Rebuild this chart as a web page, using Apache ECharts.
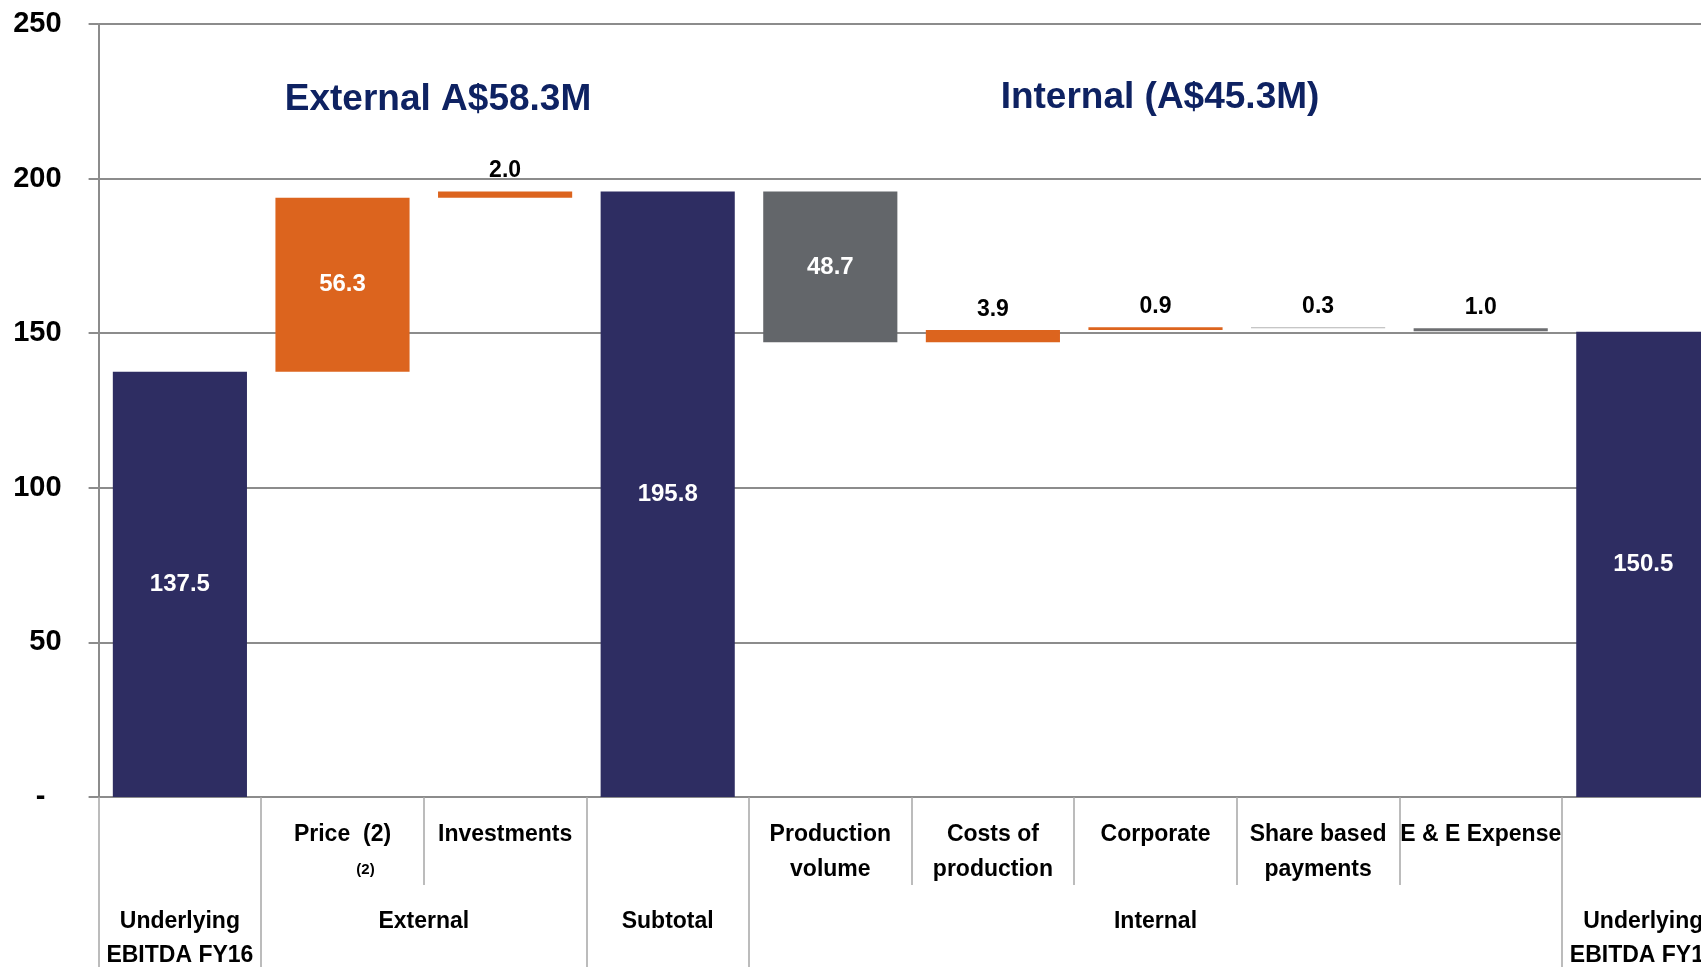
<!DOCTYPE html>
<html>
<head>
<meta charset="utf-8">
<script src="https://cdn.jsdelivr.net/npm/echarts@6/dist/echarts.min.js"></script>
<style>
html,body{margin:0;padding:0;background:#fff;}
#chart{width:1701px;height:967px;}
</style>
</head>
<body>
<div id="chart"></div>
<script>
// ---- data ----
const categories = ['Underlying EBITDA FY16', 'Price', 'Investments', 'Subtotal', 'Production volume',
  'Costs of production', 'Corporate', 'Share based payments', 'E & E Expense', 'Underlying EBITDA FY17'];
const subLabels = ['', 'Price  (2)\n{s|(2)}', 'Investments', '', 'Production\nvolume', 'Costs of\nproduction',
  'Corporate', 'Share based\npayments', 'E & E Expense', ''];
const groupLabels = ['Underlying\nEBITDA FY16', 'External', '', 'Subtotal', '', '', 'Internal', '', '', 'Underlying\nEBITDA FY17'];
const groupStarts = [0, 1, 3, 4, 9];
const totals = [137.5, null, null, 195.8, null, null, null, null, null, 150.5];
const deltas = [null, 56.3, 2.0, null, -48.7, 3.9, 0.9, -0.3, -1.0, null];
const yTicks = [0, 50, 100, 150, 200, 250];
const titles = ['External A$58.3M', 'Internal (A$45.3M)'];

// ---- styles ----
const palette = ['#2e2d62', '#dc641e', '#dc641e', '#2e2d62', '#63666a', '#dc641e', '#dc641e', '#b3b3b3', '#6d6e71', '#2e2d62'];
const FONT = '"Liberation Sans", Arial, sans-serif';
const gridLeft = 98.6, gridWidth = 1626, catW = gridWidth / categories.length;

// ---- waterfall build ----
const base = [], height = [];
let running = 0;
for (let i = 0; i < categories.length; i++) {
  if (totals[i] != null) {
    base.push(0); height.push(totals[i]); running = totals[i];
  } else {
    const end = running + deltas[i];
    base.push(Math.min(running, end));
    height.push(Math.abs(deltas[i]));
    running = end;
  }
}
const visData = height.map((h, i) => {
  const v = totals[i] != null ? totals[i] : Math.abs(deltas[i]);
  const big = v >= 10;
  return {
    value: h,
    itemStyle: { color: palette[i] },
    label: big ? {
      show: true, position: 'inside', color: '#ffffff', fontSize: 24, fontWeight: 'bold', fontFamily: FONT,
      formatter: v.toFixed(1)
    } : {
      show: true, position: 'top', distance: 9, color: '#000000', fontSize: 23, fontWeight: 'bold', fontFamily: FONT,
      formatter: v.toFixed(1)
    }
  };
});

const chart = echarts.init(document.getElementById('chart'));
chart.setOption({
  backgroundColor: '#ffffff',
  animation: false,
  title: [
    { text: titles[0], left: 438, top: 81, padding: 0, textAlign: 'center',
      textStyle: { color: '#0e2262', fontSize: 37, fontWeight: 'bold', fontFamily: FONT, lineHeight: 37 } },
    { text: titles[1], left: 1160, top: 79, padding: 0, textAlign: 'center',
      textStyle: { color: '#0e2262', fontSize: 37, fontWeight: 'bold', fontFamily: FONT, lineHeight: 37 } }
  ],
  grid: { left: gridLeft, top: 24, width: gridWidth, bottom: 170, containLabel: false, outerBoundsMode: 'none' },
  xAxis: [
    {
      type: 'category', data: categories, position: 'bottom',
      axisLine: { show: true, lineStyle: { color: '#8c8c8c', width: 2 } },
      axisTick: { show: true, length: 88, lineStyle: { color: '#a6a6a6', width: 1.5 } },
      axisLabel: {
        interval: 0, margin: 20, color: '#000', fontSize: 23, fontWeight: 'bold', fontFamily: FONT, lineHeight: 35,
        formatter: (v, i) => subLabels[i],
        rich: { s: { fontSize: 15, fontWeight: 'bold', fontFamily: FONT, color: '#000', lineHeight: 35, padding: [0, 0, 0, 46] } }
      },
      splitLine: { show: false }
    },
    {
      type: 'category', data: categories, position: 'bottom', offset: 0,
      axisLine: { show: false },
      axisTick: { show: true, length: 175, interval: (i) => groupStarts.indexOf(i) >= 0,
        lineStyle: { color: '#a6a6a6', width: 1.5 } },
      axisLabel: {
        interval: 0, margin: 108, color: '#000', fontSize: 23, fontWeight: 'bold', fontFamily: FONT, lineHeight: 34,
        formatter: (v, i) => i === 1 ? '{ext|' + groupLabels[i] + '}' : groupLabels[i],
        rich: { ext: { fontSize: 23, fontWeight: 'bold', fontFamily: FONT, color: '#000', lineHeight: 34, padding: [0, 0, 0, catW] } }
      },
      splitLine: { show: false }
    }
  ],
  yAxis: {
    type: 'value', min: yTicks[0], max: yTicks[yTicks.length - 1], interval: 50,
    axisLine: { show: true, lineStyle: { color: '#8c8c8c', width: 2 } },
    axisTick: { show: true, length: 10, lineStyle: { color: '#8c8c8c', width: 2 } },
    axisLabel: { margin: 37, color: '#000', fontSize: 29, fontWeight: 'bold', fontFamily: FONT,
      formatter: (v) => v === 0 ? '-  ' : String(v) },
    splitLine: { show: true, lineStyle: { color: '#8c8c8c', width: 2 } }
  },
  series: [
    { type: 'bar', stack: 'wf', data: base, barCategoryGap: '17.5%', silent: true,
      itemStyle: { color: 'rgba(0,0,0,0)' }, label: { show: false } },
    { type: 'bar', stack: 'wf', data: visData, barCategoryGap: '17.5%' }
  ]
});
</script>
</body>
</html>
